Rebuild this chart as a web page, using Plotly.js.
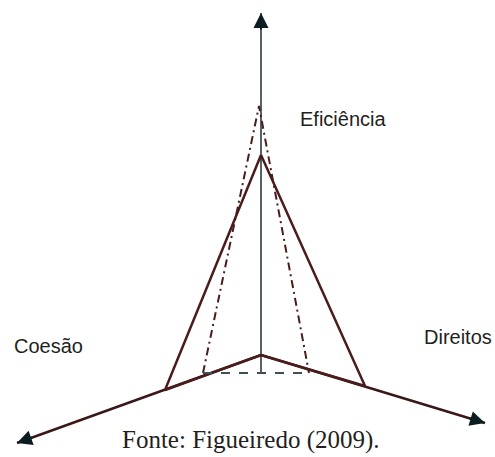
<!DOCTYPE html>
<html><head><meta charset="utf-8">
<script src="https://cdn.plot.ly/plotly-3.0.1.min.js"></script>
<style>html,body{margin:0;padding:0;background:#fff;}#chart{width:495px;height:457px;}</style>
</head><body><div id="chart"></div>
<script>
// Diagram coordinates (plot units, y grows downward)
const axisLabels = ['Eficiência', 'Coesão', 'Direitos'];
const axisTailX = [261, 261, 261];
const axisTailY = [373, 355, 355];
const axisTipX = [261, 17, 485];
const axisTipY = [13, 443, 423];

// Solid profile
const solidX = [261, 165, 261, 365, 261];
const solidY = [155, 390, 355, 386, 155];
// Dash-dot profile
const dashDotX = [203, 259, 309];
const dashDotY = [373, 106, 373];
// Dashed base
const dashedX = [203, 309];
const dashedY = [373, 373];

const labelX = [298, 12, 422];
const labelY = [119, 346, 337];
const sourceText = 'Fonte: Figueiredo (2009).';

const axisColors = ['#1c2e34', '#3a1818', '#3a1818'];
const traces = [];
for (let i = 0; i < 3; i++) {
  traces.push({x: [axisTailX[i], axisTipX[i]], y: [axisTailY[i], axisTipY[i]], mode: 'lines',
    line: {color: axisColors[i], width: i === 0 ? 1.5 : 2.5}, hoverinfo: 'skip'});
}
traces.push({x: solidX, y: solidY, mode: 'lines', line: {color: '#4a1c1c', width: 2.5}, hoverinfo: 'skip'});
traces.push({x: dashDotX, y: dashDotY, mode: 'lines', line: {color: '#4a1c1c', width: 2, dash: '8px,4px,2px,4px'}, hoverinfo: 'skip'});
traces.push({x: dashedX, y: dashedY, mode: 'lines', line: {color: '#3e5056', width: 1.8, dash: 'dash'}, hoverinfo: 'skip'});

const annotations = [];
for (let i = 0; i < 3; i++) {
  const dx = axisTipX[i] - axisTailX[i], dy = axisTipY[i] - axisTailY[i];
  const len = Math.hypot(dx, dy);
  annotations.push({x: axisTipX[i], y: axisTipY[i], xref: 'x', yref: 'y',
    ax: axisTipX[i] - dx / len * 18, ay: axisTipY[i] - dy / len * 18, axref: 'x', ayref: 'y',
    showarrow: true, arrowhead: 2, arrowsize: 1.5, arrowwidth: 2, arrowcolor: '#0c1d22', text: ''});
  annotations.push({x: labelX[i], y: labelY[i], xref: 'x', yref: 'y', text: axisLabels[i],
    showarrow: false, xanchor: 'left', yanchor: 'middle',
    font: {family: 'Liberation Sans, Arial, sans-serif', size: 20, color: '#231f20'}});
}
annotations.push({x: 251, y: 440, xref: 'x', yref: 'y', text: sourceText, showarrow: false,
  xanchor: 'center', yanchor: 'middle', font: {family: 'Liberation Serif, Times New Roman, serif', size: 25, color: '#231f20'}});

const layout = {
  width: 495, height: 457, margin: {l: 0, r: 0, t: 0, b: 0},
  paper_bgcolor: '#fff', plot_bgcolor: '#fff', showlegend: false,
  xaxis: {range: [0, 495], visible: false, fixedrange: true},
  yaxis: {range: [457, 0], visible: false, fixedrange: true},
  annotations: annotations
};
Plotly.newPlot('chart', traces, layout, {staticPlot: true, displayModeBar: false});
</script></body></html>
